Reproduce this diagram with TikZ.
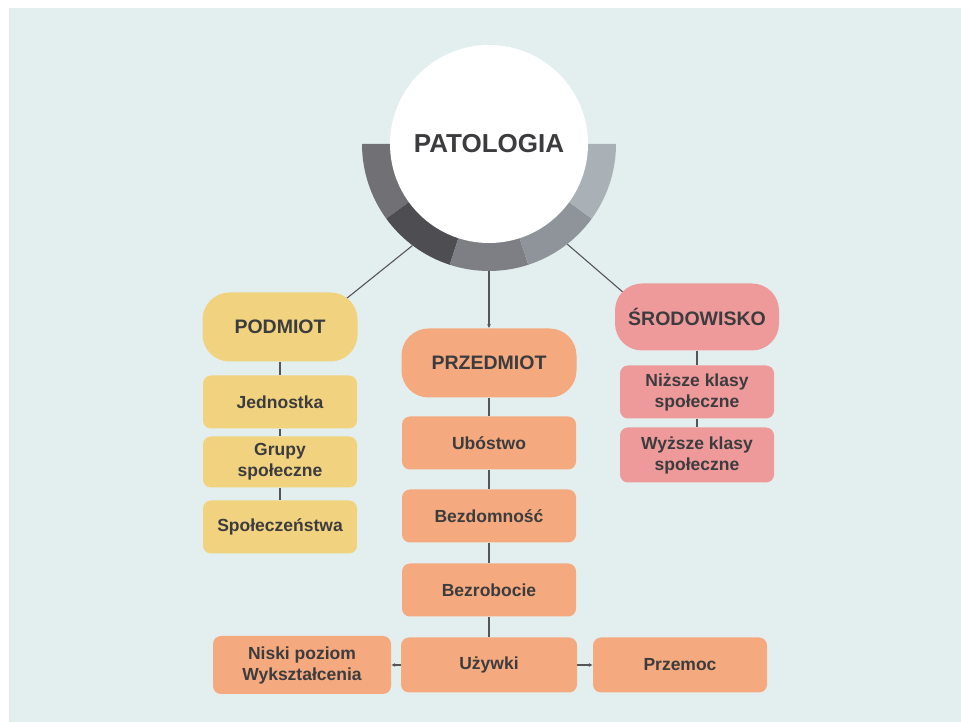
\documentclass[tikz,border=0pt]{standalone}
\usepackage{fontspec}
\setmainfont{Liberation Sans}
\usepackage{tikz}
\usetikzlibrary{arrows.meta, positioning, backgrounds, calc}
\usepackage{xcolor}
\definecolor{tlo}{RGB}{227,239,238}
\definecolor{zolty}{RGB}{240,210,127}
\definecolor{pomarancz}{RGB}{244,169,126}
\definecolor{rozowy}{RGB}{238,154,155}
\definecolor{tekst}{RGB}{60,60,62}
\definecolor{linia}{RGB}{85,85,88}
\definecolor{szaryA}{RGB}{112,112,117}
\definecolor{szaryB}{RGB}{77,77,82}
\definecolor{szaryC}{RGB}{125,127,133}
\definecolor{szaryD}{RGB}{143,148,154}
\definecolor{szaryE}{RGB}{169,177,183}

\begin{document}
\begin{tikzpicture}[x=1pt, y=1pt,
    naglowek/.style={rounded corners=27pt, minimum height=69pt, inner sep=0pt,
      text=tekst, font=\fontsize{19.5}{23}\selectfont\bfseries},
    pole/.style={rounded corners=8pt, minimum width=154pt, minimum height=53pt,
      inner sep=0pt, align=center, text=tekst,
      font=\fontsize{17.5}{21}\selectfont\bfseries},
    polaczenie/.style={draw=linia, line width=1.1pt},
    strzalka/.style={polaczenie, -{Latex[length=4pt, width=4pt]}}]

    \useasboundingbox (0,0) rectangle (961,722);

    % Tlo
    \begin{scope}[on background layer]
      \fill[white] (0,0) rectangle (961,722);
      \fill[tlo] (9,0) rectangle (961,714);
    \end{scope}

    % Pierscien pod kolem (piec segmentow)
    \node[circle, minimum size=254pt, inner sep=0pt] (pierscien) at (489,578) {};
    \foreach \a/\kol in {180/szaryA, 216/szaryB, 252/szaryC, 288/szaryD, 324/szaryE} {
      \fill[\kol] (pierscien.center) -- ++(\a:127)
        arc[start angle=\a, delta angle=36, radius=127] -- cycle;
    }
    \node[circle, fill=white, minimum size=198pt, inner sep=0pt, text=tekst,
          font=\fontsize{26}{30}\selectfont\bfseries] (patologia)
          at (pierscien.center) {PATOLOGIA};

    % Podmiot
    \node[naglowek, fill=zolty, minimum width=155pt] (podmiot) at (280,395) {PODMIOT};
    \node[pole, fill=zolty] (jednostka) at (280,320) {Jednostka};
    \node[pole, fill=zolty, minimum height=51pt] (grupy) at (280,260) {Grupy\\społeczne};
    \node[pole, fill=zolty] (spoleczenstwa) at (280,195) {Społeczeństwa};

    % Przedmiot
    \node[naglowek, fill=pomarancz, minimum width=175pt] (przedmiot) at (489,359) {PRZEDMIOT};
    \node[pole, fill=pomarancz, minimum width=174pt] (ubostwo) at (489,279) {Ubóstwo};
    \node[pole, fill=pomarancz, minimum width=174pt] (bezdomnosc) at (489,206) {Bezdomność};
    \node[pole, fill=pomarancz, minimum width=174pt] (bezrobocie) at (489,132) {Bezrobocie};
    \node[pole, fill=pomarancz, minimum width=176pt, minimum height=55pt] (uzywki) at (489,57) {Używki};
    \node[pole, fill=pomarancz, minimum width=178pt, minimum height=58pt] (niski) at (302,57)
      {Niski poziom\\Wykształcenia};
    \node[pole, fill=pomarancz, minimum width=174pt, minimum height=55pt] (przemoc) at (680,57) {Przemoc};

    % Srodowisko
    \node[naglowek, fill=rozowy, minimum width=164pt, minimum height=67pt] (srodowisko) at (697,405)
      {ŚRODOWISKO};
    \node[pole, fill=rozowy] (nizsze) at (697,330) {Niższe klasy\\społeczne};
    \node[pole, fill=rozowy, minimum height=55pt] (wyzsze) at (697,267) {Wyższe klasy\\społeczne};

    % Polaczenia
    \begin{scope}[on background layer]
      \draw[polaczenie] (pierscien.233) -- ($(podmiot.center)!0.4!(podmiot.east)$);
      \draw[polaczenie] (pierscien.308) -- ($(srodowisko.center)!0.55!(srodowisko.west)$);
      \draw[strzalka] (pierscien.270) -- (przedmiot.north);

      \draw[polaczenie] (podmiot) -- (jednostka);
      \draw[polaczenie] (jednostka) -- (grupy);
      \draw[polaczenie] (grupy) -- (spoleczenstwa);

      \draw[polaczenie] (przedmiot) -- (ubostwo);
      \draw[polaczenie] (ubostwo) -- (bezdomnosc);
      \draw[polaczenie] (bezdomnosc) -- (bezrobocie);
      \draw[polaczenie] (bezrobocie) -- (uzywki);
      \draw[strzalka] (uzywki) -- (niski);
      \draw[strzalka] (uzywki) -- (przemoc);

      \draw[polaczenie] (srodowisko) -- (nizsze);
      \draw[polaczenie] (nizsze) -- (wyzsze);
    \end{scope}

\end{tikzpicture}
\end{document}
